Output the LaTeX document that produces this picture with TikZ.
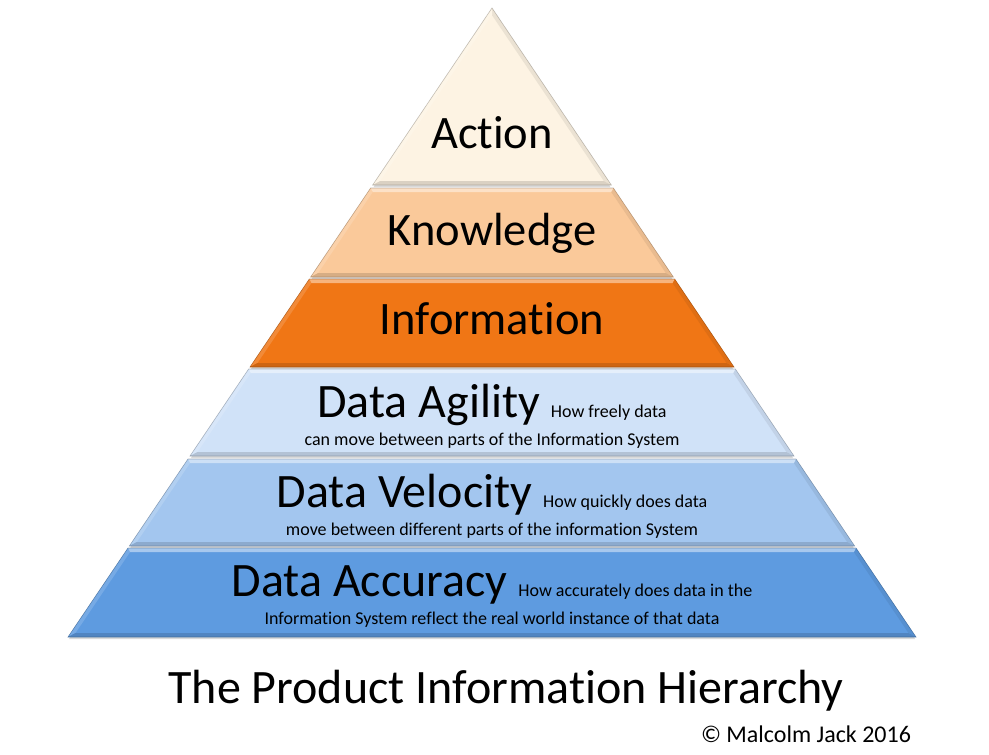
\documentclass[tikz,border=0pt]{standalone}
\usepackage{fontspec}
\setmainfont{Carlito}[Ligatures=NoCommon]
\usetikzlibrary{calc}
\definecolor{cAct}{HTML}{FDF3E3}
\definecolor{cKno}{HTML}{FAC99A}
\definecolor{cInf}{HTML}{F07615}
\definecolor{cAgi}{HTML}{D0E2F8}
\definecolor{cVel}{HTML}{A3C6EF}
\definecolor{cAcc}{HTML}{5E9BE0}
\newcommand\pyrband[3]{%
 \pgfmathsetmacro\pyt{#1}%
 \pgfmathsetmacro\pyb{#2}%
 \pgfmathsetmacro\pbv{4}%
 \pgfmathsetmacro\pxtl{492-0.67409*(\pyt-8)}%
 \pgfmathsetmacro\pxtr{984-\pxtl}%
 \pgfmathsetmacro\pxbl{492-0.67409*(\pyb-8)}%
 \pgfmathsetmacro\pxbr{984-\pxbl}%
 \pgfmathsetmacro\pyti{max(\pyt+\pbv,8+1.79*\pbv)}%
 \pgfmathsetmacro\pybi{\pyb-\pbv}%
 \pgfmathsetmacro\pxtli{492-0.67409*(\pyti-8)+1.206*\pbv}%
 \pgfmathsetmacro\pxtri{984-\pxtli}%
 \pgfmathsetmacro\pxbli{492-0.67409*(\pybi-8)+1.206*\pbv}%
 \pgfmathsetmacro\pxbri{984-\pxbli}%
 \fill[black, opacity=.15] (\pxbl+2,\pyb) -- (\pxbr-2,\pyb) -- (\pxbr-1,\pyb+2) -- (\pxbl+1,\pyb+2) -- cycle;
 \fill[#3] (\pxtl,\pyt) -- (\pxtr,\pyt) -- (\pxbr,\pyb) -- (\pxbl,\pyb) -- cycle;
 \fill[#3!85!white] (\pxtl,\pyt) -- (\pxtli,\pyti) -- (\pxbli,\pybi) -- (\pxbl,\pyb) -- cycle;
 \fill[#3!93!black] (\pxtr,\pyt) -- (\pxtri,\pyti) -- (\pxbri,\pybi) -- (\pxbr,\pyb) -- cycle;
 \fill[#3!55!white] (\pxtl,\pyt) -- (\pxtr,\pyt) -- (\pxtri,\pyti) -- (\pxtli,\pyti) -- cycle;
 \fill[#3!86!black] (\pxbl,\pyb) -- (\pxbr,\pyb) -- (\pxbri,\pybi) -- (\pxbli,\pybi) -- cycle;
 \draw[#3!50!black, line width=0.6pt, opacity=.45] (\pxtl,\pyt) -- (\pxtr,\pyt) -- (\pxbr,\pyb) -- (\pxbl,\pyb) -- cycle;
}
\tikzset{
  bigtxt/.style={anchor=base, inner sep=0pt, font=\fontsize{46.5}{52}\selectfont},
  datatxt/.style={anchor=base, inner sep=0pt, font=\fontsize{48}{52}\selectfont},
  smalltxt/.style={anchor=base, inner sep=0pt, font=\fontsize{18}{22}\selectfont},
}
\newcommand\smallf{\fontsize{18}{22}\selectfont}
\begin{document}
\begin{tikzpicture}[x=1pt,y=-1pt]
\useasboundingbox[fill=white] (0,0) rectangle (989,755);
\pyrband{8}{185}{cAct}
\pyrband{188}{277}{cKno}
\pyrband{279}{367}{cInf}
\pyrband{369}{456}{cAgi}
\pyrband{459}{546}{cVel}
\pyrband{548}{637}{cAcc}

\node[bigtxt] (act) at (492,148) {Action};
\node[bigtxt] (kno) at (492,245) {Knowledge};
\node[bigtxt] (inf) at (492,334) {Information};
\node[datatxt] (agi) at (492,417) {Data Agility {\smallf How freely data}};
\node[smalltxt] (agi2) at (492,445) {can move between parts of the Information System};
\node[datatxt] (vel) at (492,507) {Data Velocity {\smallf How quickly does data}};
\node[smalltxt] (vel2) at (492,535) {move between different parts of the information System};
\node[datatxt] (acc) at (492,596) {Data Accuracy {\smallf How accurately does data in the}};
\node[smalltxt] (acc2) at (492,624) {Information System reflect the real world instance of that data};

\node[anchor=base, inner sep=0pt, font=\fontsize{48}{52}\selectfont] (title) at (506,703) {The Product Information Hierarchy};
\node[anchor=base, inner sep=0pt, font=\fontsize{24}{28}\selectfont] (copy) at (806,742) {© Malcolm Jack 2016};
\end{tikzpicture}
\end{document}
